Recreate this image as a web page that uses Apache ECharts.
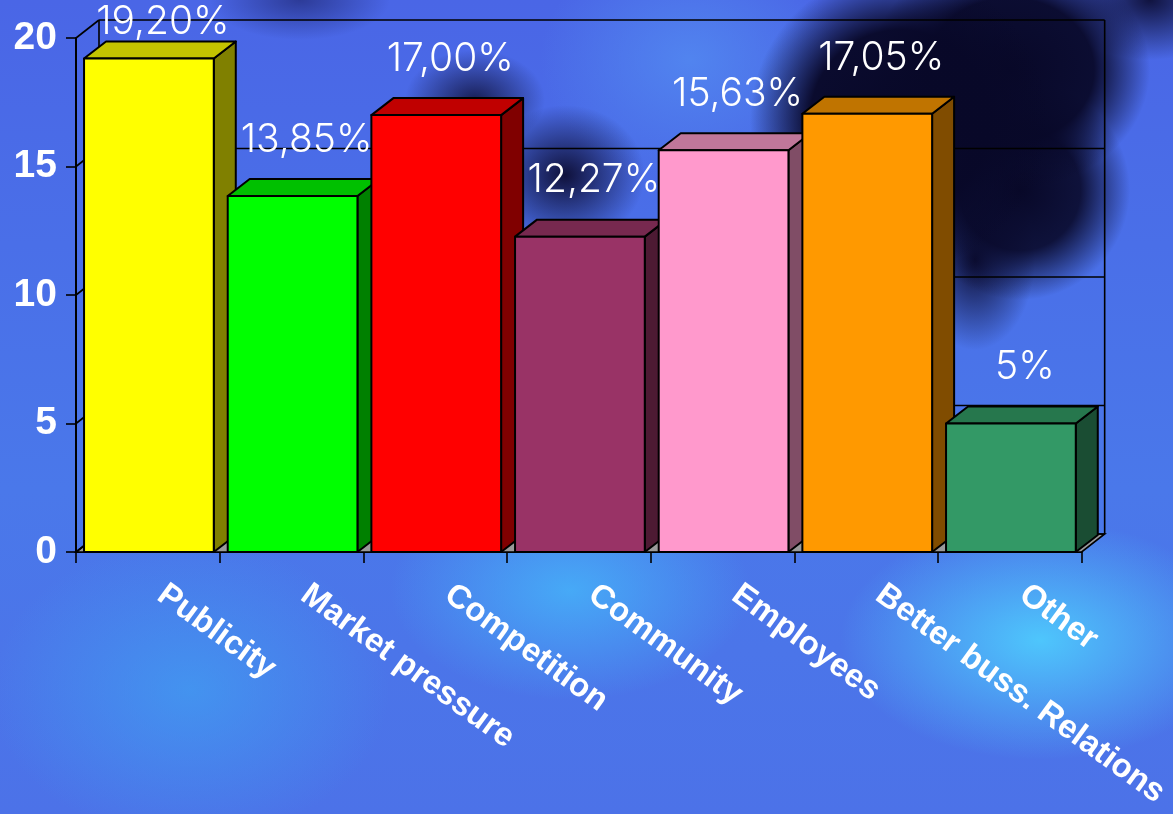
<!DOCTYPE html>
<html>
<head>
<meta charset="utf-8">
<script src="https://cdn.jsdelivr.net/npm/echarts@6/dist/echarts.min.js"></script>
<style>
html,body{margin:0;padding:0;width:1173px;height:814px;overflow:hidden;}
body{
  background:
    radial-gradient(ellipse 150px 150px at 900px 120px, rgba(8,8,40,1) 0%, rgba(8,8,40,0.97) 60%, rgba(8,8,40,0) 100%),
    radial-gradient(ellipse 140px 120px at 1010px 70px, rgba(8,8,40,1) 0%, rgba(8,8,40,0.95) 60%, rgba(8,8,40,0) 100%),
    radial-gradient(ellipse 110px 110px at 1020px 190px, rgba(8,8,40,1) 0%, rgba(8,8,40,0.9) 55%, rgba(8,8,40,0) 100%),
    radial-gradient(ellipse 60px 90px at 975px 260px, rgba(10,10,45,0.95) 0%, rgba(10,10,45,0) 100%),
    radial-gradient(ellipse 90px 60px at 1150px 0px, rgba(10,10,45,0.9) 0%, rgba(10,10,45,0) 100%),
    radial-gradient(ellipse 80px 70px at 565px 175px, rgba(12,12,50,0.95) 0%, rgba(12,12,50,0) 100%),
    radial-gradient(ellipse 70px 50px at 475px 100px, rgba(12,12,50,0.8) 0%, rgba(12,12,50,0) 100%),
    radial-gradient(ellipse 90px 40px at 300px 0px, rgba(25,30,100,0.6) 0%, rgba(25,30,100,0) 100%),
    radial-gradient(ellipse 200px 120px at 1040px 640px, rgba(78,198,252,1) 0%, rgba(78,198,252,0) 100%),
    radial-gradient(ellipse 180px 110px at 570px 590px, rgba(70,175,248,0.9) 0%, rgba(70,175,248,0) 100%),
    radial-gradient(ellipse 200px 150px at 190px 690px, rgba(64,160,242,0.7) 0%, rgba(64,160,242,0) 100%),
    radial-gradient(ellipse 150px 120px at 690px 60px, rgba(82,135,240,0.9) 0%, rgba(82,135,240,0) 100%),
    linear-gradient(180deg, #4a66e6 0%, #4a78ea 60%, #4c72e8 100%);
}
#chart{width:1173px;height:814px;}
</style>
</head>
<body>
<div id="chart"></div>
<script>
const categories = ['Publicity', 'Market pressure', 'Competition', 'Community', 'Employees', 'Better buss. Relations', 'Other'];
const values = [19.20, 13.85, 17.00, 12.27, 15.63, 17.05, 5];
const valueLabels = ['19,20%', '13,85%', '17,00%', '12,27%', '15,63%', '17,05%', '5%'];
const frontColors = ['#FFFF00', '#00FF00', '#FF0000', '#993366', '#FF99CC', '#FF9900', '#339966'];
const topColors = ['#C4C400', '#00C000', '#C00000', '#77294F', '#C0779A', '#C07400', '#26774D'];
const sideColors = ['#808000', '#008000', '#800000', '#4D1A33', '#804D66', '#804C00', '#1A4D33'];
const yTicks = [0, 5, 10, 15, 20];

const DX = 23, DY = -18;      // wall depth
const BDX = 22, BDY = -17;    // bar depth

const chart = echarts.init(document.getElementById('chart'), null, {renderer: 'canvas'});

function renderWalls(params, api) {
  const bw = api.size([1, 0])[0];
  const x0 = api.coord([0, 0])[0] - bw / 2;
  const x1 = api.coord([categories.length - 1, 0])[0] + bw / 2;
  const yb = api.coord([0, yTicks[0]])[1];
  const yt = api.coord([0, yTicks[yTicks.length - 1]])[1];
  const children = [];
  const ls = {stroke: '#000', lineWidth: 1.6, fill: null};
  children.push({type: 'polygon', shape: {points: [[x0, yb], [x1, yb], [x1 + DX, yb + DY], [x0 + DX, yb + DY]]},
    style: {fill: '#9a9a9a', stroke: '#000', lineWidth: 1.6}});
  yTicks.forEach(t => {
    const y = api.coord([0, t])[1];
    children.push({type: 'line', shape: {x1: x0 + DX, y1: y + DY, x2: x1 + DX, y2: y + DY}, style: ls});
    children.push({type: 'line', shape: {x1: x0, y1: y, x2: x0 + DX, y2: y + DY}, style: ls});
  });
  children.push({type: 'line', shape: {x1: x0 + DX, y1: yb + DY, x2: x0 + DX, y2: yt + DY}, style: ls});
  children.push({type: 'line', shape: {x1: x1 + DX, y1: yb + DY, x2: x1 + DX, y2: yt + DY}, style: ls});
  return {type: 'group', children: children};
}

function renderBar(params, api) {
  const i = api.value(0);
  const v = api.value(1);
  const c0 = api.coord([i, 0]);
  const c1 = api.coord([i, v]);
  const bw = api.size([1, 0])[0];
  const left = c0[0] - bw / 2 + bw * 0.056;
  const right = left + bw * 0.903;
  const yb = c0[1], yt = c1[1];
  const stroke = {stroke: '#000', lineWidth: 2, lineJoin: 'round'};
  const z2 = i * 10;
  const labelY = Math.max(yt - 56, 22);
  return {
    type: 'group',
    children: [
      {type: 'polygon', z2: z2,
        shape: {points: [[right, yb], [right + BDX, yb + BDY], [right + BDX, yt + BDY], [right, yt]]},
        style: Object.assign({fill: sideColors[i]}, stroke)},
      {type: 'polygon', z2: z2 + 1,
        shape: {points: [[left, yt], [left + BDX, yt + BDY], [right + BDX, yt + BDY], [right, yt]]},
        style: Object.assign({fill: topColors[i]}, stroke)},
      {type: 'rect', z2: z2 + 2,
        shape: {x: left, y: yt, width: right - left, height: yb - yt},
        style: Object.assign({fill: frontColors[i]}, stroke)},
      {type: 'text', z2: 200,
        x: (left + right) / 2 + 14, y: labelY,
        style: {text: valueLabels[i], fill: '#ffffff', font: '300 39px Inter, "Open Sans", sans-serif',
          align: 'center', verticalAlign: 'middle'}}
    ]
  };
}

const option = {
  backgroundColor: 'transparent',
  animation: false,
  grid: {left: 76, right: 89, top: 38, bottom: 262, containLabel: false},
  xAxis: {
    type: 'category',
    data: categories,
    axisLine: {show: true, lineStyle: {color: '#000', width: 2}},
    axisTick: {show: true, length: 11, lineStyle: {color: '#000', width: 1.6}},
    axisLabel: {
      rotate: -36, interval: 0, margin: 30, color: '#ffffff',
      fontFamily: '"Liberation Sans", Arial, sans-serif', fontWeight: 'bold', fontSize: 33,
      padding: [0, 0, 0, 16]
    },
    splitLine: {show: false}
  },
  yAxis: {
    type: 'value', min: 0, max: 20, interval: 5,
    axisLine: {show: true, lineStyle: {color: '#000', width: 2}},
    axisTick: {show: true, length: 10, lineStyle: {color: '#000', width: 1.6}},
    axisLabel: {
      margin: 19, color: '#ffffff',
      fontFamily: '"Liberation Sans", Arial, sans-serif', fontWeight: 'bold', fontSize: 39
    },
    splitLine: {show: false}
  },
  series: [
    {type: 'custom', name: 'walls', z: 1, silent: true, renderItem: renderWalls, data: [[0, 0]], clip: false},
    {type: 'custom', name: 'bars', z: 2, renderItem: renderBar, clip: false,
      data: values.map((v, i) => [i, v])}
  ]
};
chart.setOption(option);
</script>
</body>
</html>
